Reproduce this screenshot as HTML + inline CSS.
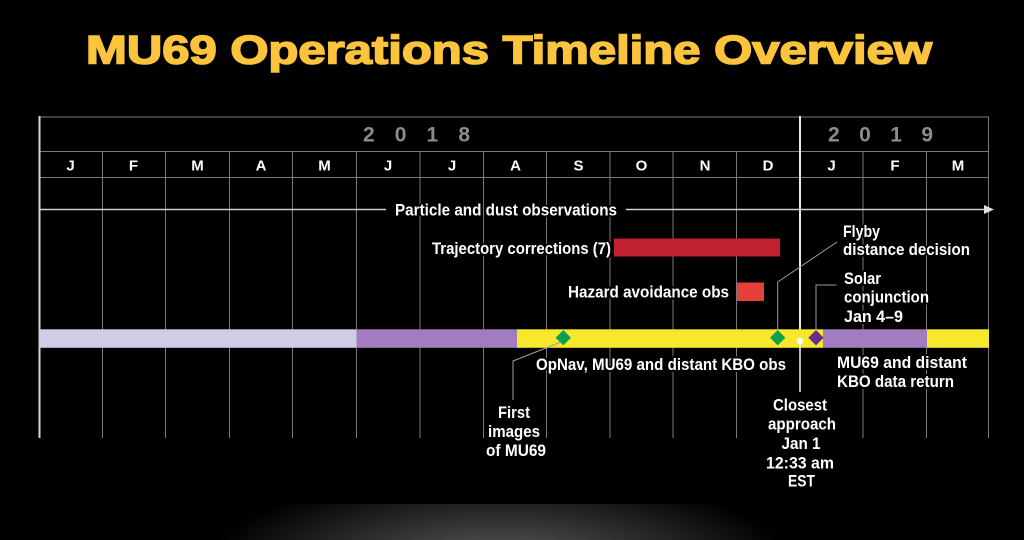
<!DOCTYPE html>
<html><head><meta charset="utf-8">
<style>
html,body{margin:0;padding:0;background:#000;}
svg{display:block;}
text{font-family:"Liberation Sans Narrow","Liberation Sans",sans-serif;}
.lbl{fill:#fff;font-size:17px;font-weight:bold;paint-order:stroke;stroke:#000;stroke-width:4px;stroke-linejoin:round;}
.mon{fill:#fff;font-size:15px;font-weight:bold;text-anchor:middle;}
.yr{fill:#8c8c8c;font-size:21px;font-weight:bold;font-family:"Liberation Sans",sans-serif;}
</style></head>
<body>
<svg width="1024" height="540" viewBox="0 0 1024 540" xmlns="http://www.w3.org/2000/svg">
<defs>
<radialGradient id="glow" cx="500" cy="575" r="300" gradientUnits="userSpaceOnUse" gradientTransform="translate(500 575) scale(1 0.35) translate(-500 -575)">
<stop offset="0" stop-color="#6a6a6a"/>
<stop offset="0.5" stop-color="#333"/>
<stop offset="1" stop-color="#000"/>
</radialGradient>
</defs>
<rect width="1024" height="540" fill="#000"/>
<rect x="0" y="504" width="1024" height="36" fill="url(#glow)"/>

<text x="86" y="63.5" font-weight="bold" font-size="40" fill="#fbc43c" stroke="#fbc43c" stroke-width="1.6" textLength="846" lengthAdjust="spacingAndGlyphs" style="font-family:'Liberation Sans',sans-serif">MU69 Operations Timeline Overview</text>

<!-- grid -->
<g stroke="#7a7a7a" stroke-width="1">
<line x1="39" y1="117" x2="989" y2="117"/>
<line x1="39" y1="151.5" x2="989" y2="151.5"/>
<line x1="39" y1="177.5" x2="989" y2="177.5"/>
<line x1="102.5" y1="151" x2="102.5" y2="438"/>
<line x1="165.5" y1="151" x2="165.5" y2="438"/>
<line x1="229.5" y1="151" x2="229.5" y2="438"/>
<line x1="292.5" y1="151" x2="292.5" y2="438"/>
<line x1="356.5" y1="151" x2="356.5" y2="438"/>
<line x1="420" y1="151" x2="420" y2="438"/>
<line x1="483.5" y1="151" x2="483.5" y2="438"/>
<line x1="546.5" y1="151" x2="546.5" y2="438"/>
<line x1="610" y1="151" x2="610" y2="438"/>
<line x1="673" y1="151" x2="673" y2="438"/>
<line x1="736.5" y1="151" x2="736.5" y2="438"/>
<line x1="863" y1="151" x2="863" y2="438"/>
<line x1="926.5" y1="151" x2="926.5" y2="438"/>
<line x1="988.5" y1="117" x2="988.5" y2="438"/>
</g>
<line x1="39.5" y1="116" x2="39.5" y2="438" stroke="#d8d8d8" stroke-width="2"/>
<line x1="800" y1="116" x2="800" y2="330" stroke="#e8e8e8" stroke-width="2"/>

<!-- years -->
<text class="yr" x="363" y="141.7" textLength="107" lengthAdjust="spacing">2018</text>
<text class="yr" x="828" y="141.7" textLength="105" lengthAdjust="spacing">2019</text>

<!-- months -->
<g class="mon">
<text x="70.5" y="170.5">J</text>
<text x="133.5" y="170.5">F</text>
<text x="197.5" y="170.5">M</text>
<text x="261" y="170.5">A</text>
<text x="324.5" y="170.5">M</text>
<text x="388" y="170.5">J</text>
<text x="452" y="170.5">J</text>
<text x="515.5" y="170.5">A</text>
<text x="578.5" y="170.5">S</text>
<text x="641.5" y="170.5">O</text>
<text x="705" y="170.5">N</text>
<text x="768" y="170.5">D</text>
<text x="831.5" y="170.5">J</text>
<text x="895" y="170.5">F</text>
<text x="958" y="170.5">M</text>
</g>

<!-- particle arrow -->
<line x1="39" y1="209.5" x2="386" y2="209.5" stroke="#d0d0d0" stroke-width="1.5"/>
<line x1="626" y1="209.5" x2="986" y2="209.5" stroke="#d0d0d0" stroke-width="1.5"/>
<polygon points="984,205 994,209.5 984,214" fill="#e0e0e0"/>
<text class="lbl" x="395" y="215.5" textLength="222" lengthAdjust="spacingAndGlyphs">Particle and dust observations</text>

<!-- trajectory -->
<text class="lbl" x="432" y="254" textLength="179" lengthAdjust="spacingAndGlyphs">Trajectory corrections (7)</text>
<rect x="614" y="238.5" width="166" height="18" fill="#c0202f"/>

<!-- hazard -->
<text class="lbl" x="568" y="297.7" textLength="161" lengthAdjust="spacingAndGlyphs">Hazard avoidance obs</text>
<rect x="737" y="282.5" width="27" height="18.5" fill="#e5403a"/>

<!-- flyby -->
<text class="lbl" x="843" y="237" textLength="37" lengthAdjust="spacingAndGlyphs">Flyby</text>
<text class="lbl" x="843" y="255" textLength="127" lengthAdjust="spacingAndGlyphs">distance decision</text>
<polyline points="777.7,331 777.7,282 837,242" fill="none" stroke="#9a9a9a" stroke-width="1"/>

<!-- solar -->
<text class="lbl" x="844" y="284" textLength="37" lengthAdjust="spacingAndGlyphs">Solar</text>
<text class="lbl" x="844" y="302.5" textLength="85" lengthAdjust="spacingAndGlyphs">conjunction</text>
<text class="lbl" x="844" y="322" textLength="59" lengthAdjust="spacingAndGlyphs">Jan 4–9</text>
<polyline points="816,331 816,285 836.5,285" fill="none" stroke="#9a9a9a" stroke-width="1"/>

<!-- main bar -->
<rect x="39" y="329.3" width="317.5" height="18.5" fill="#cfcce6"/>
<rect x="356.5" y="329.3" width="160.5" height="18.5" fill="#a37cc0"/>
<rect x="517" y="329.3" width="306" height="18.5" fill="#f7e82e"/>
<rect x="823" y="329.3" width="104" height="18.5" fill="#a37cc0"/>
<rect x="927" y="329.3" width="62" height="18.5" fill="#f7e82e"/>

<!-- diamonds -->
<polygon points="563.3,330 571,337.7 563.3,345.4 555.6,337.7" fill="#0ea04f"/>
<polygon points="777.7,330 785.4,337.7 777.7,345.4 770,337.7" fill="#0ea04f"/>
<polygon points="816,330 823.7,337.7 816,345.4 808.3,337.7" fill="#6a2c91"/>
<line x1="800" y1="341" x2="800" y2="392" stroke="#f0f0f0" stroke-width="1.5"/>
<circle cx="800" cy="341" r="3.2" fill="#fff"/>

<!-- first images leader -->
<polyline points="561,342 513,361 513,400" fill="none" stroke="#a0a0a0" stroke-width="1"/>

<!-- below labels -->
<text class="lbl" x="536" y="370" textLength="250" lengthAdjust="spacingAndGlyphs">OpNav, MU69 and distant KBO obs</text>
<text class="lbl" x="837" y="368" textLength="130" lengthAdjust="spacingAndGlyphs">MU69 and distant</text>
<text class="lbl" x="837" y="387" textLength="117" lengthAdjust="spacingAndGlyphs">KBO data return</text>

<g class="lbl" text-anchor="middle">
<text x="514" y="418" textLength="32" lengthAdjust="spacingAndGlyphs">First</text>
<text x="514" y="437" textLength="52" lengthAdjust="spacingAndGlyphs">images</text>
<text x="516" y="456" textLength="60" lengthAdjust="spacingAndGlyphs">of MU69</text>
<text x="800" y="410.7" textLength="54" lengthAdjust="spacingAndGlyphs">Closest</text>
<text x="802" y="429.3" textLength="68" lengthAdjust="spacingAndGlyphs">approach</text>
<text x="801" y="449" textLength="39" lengthAdjust="spacingAndGlyphs">Jan 1</text>
<text x="800" y="468.3" textLength="68" lengthAdjust="spacingAndGlyphs">12:33 am</text>
<text x="801.5" y="486.7" textLength="27" lengthAdjust="spacingAndGlyphs">EST</text>
</g>
</svg>
</body></html>
